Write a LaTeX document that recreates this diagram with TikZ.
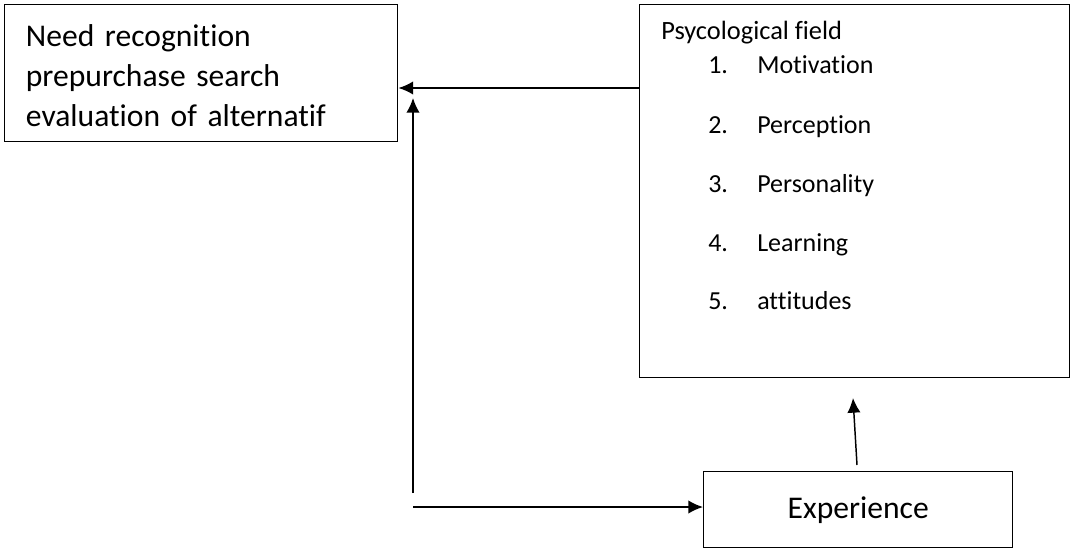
\documentclass[tikz,border=0pt]{standalone}
\usepackage{fontspec}
\setmainfont{Carlito}[Ligatures=CommonOff]
\usetikzlibrary{arrows.meta}

\begin{document}
\begin{tikzpicture}[x=0.75pt,y=-0.75pt,
    box/.style={draw,line width=1.1pt,inner sep=0pt,anchor=north west},
    item/.style={anchor=base west,inner sep=0pt,font=\fontsize{19.5}{23}\selectfont},
    arr/.style={line width=1.1pt,-{Latex[length=11pt,width=10pt]}}]
  \useasboundingbox (0,0) rectangle (1070,550);
  % the three boxes
  \node[box,minimum width=294.75pt,minimum height=102.75pt,
        text width=263pt,align=left,inner xsep=15.75pt,text height=20pt,
        font=\fontsize{23.7}{30}\selectfont] (need) at (4,4)
    {Need recognition\\prepurchase search\\evaluation of alternatif};
  \node[box,minimum width=322.5pt,minimum height=279.75pt] (psych) at (639,4) {};
  \node[box,minimum width=231.75pt,minimum height=57pt,
        font=\fontsize{23.7}{28}\selectfont] (exper) at (703,471) {Experience};
  % list inside the psychological field
  \node[item,font=\fontsize{19.8}{23}\selectfont] (head) at (661,39) {Psycological field};
  \foreach \n/\t/\y in {1/Motivation/73,2/Perception/133,3/Personality/192,4/Learning/251,5/attitudes/309}{
    \node[item] (num\n) at (708,\y) {\n.};
    \node[item] (item\n) at (757,\y) {\t};
  }
  % connectors
  \coordinate (loopfoot) at (413,493);
  \coordinate (looptip) at (413,98);
  \coordinate (bottomstart) at (413,507);
  \coordinate (upfoot) at (857,465);
  \coordinate (uptip) at (853,398);
  \draw[arr] (psych.north west |- 0,88) -- (need.east |- 0,88);
  \draw[arr] (loopfoot) -- (looptip);
  \draw[arr] (bottomstart) -- (exper.west |- bottomstart);
  \draw[arr] (upfoot) -- (uptip);
\end{tikzpicture}
\end{document}
